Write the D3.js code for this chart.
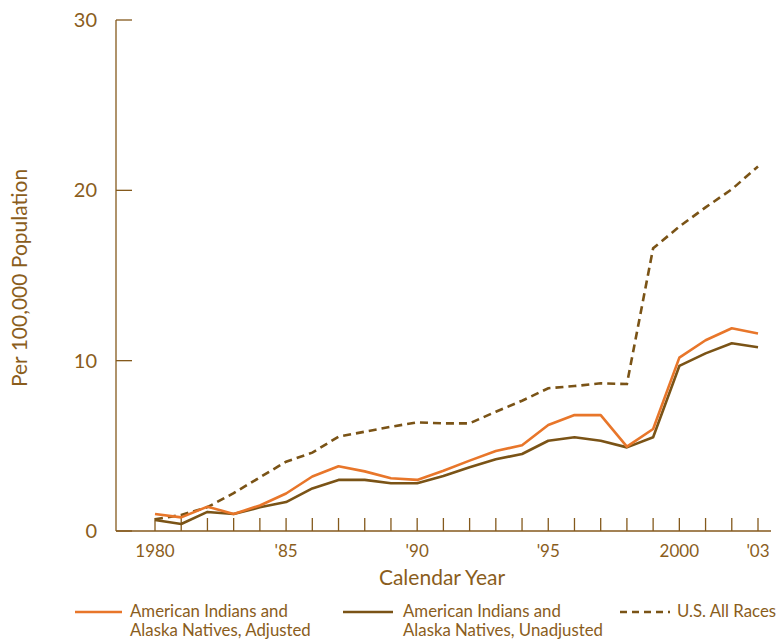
<!DOCTYPE html>
<html>
<head>
<meta charset="utf-8">
<script src="https://cdn.jsdelivr.net/npm/d3@7"></script>
<style>
  body { margin: 0; background: #fff; }
  svg text { font-family: Lato, "Open Sans", sans-serif; fill: #8a5d1c; }
</style>
</head>
<body>
<svg id="chart" width="778" height="643"></svg>
<script>
const years = d3.range(1980, 2004);
const adjusted = [1.0, 0.8, 1.43, 1.0, 1.5, 2.2, 3.2, 3.8, 3.5, 3.1, 3.0, 3.54, 4.13, 4.7, 5.03, 6.22, 6.81, 6.8, 4.95, 5.99, 10.18, 11.2, 11.9, 11.6];
const unadjusted = [0.65, 0.41, 1.12, 1.0, 1.39, 1.7, 2.5, 3.0, 3.0, 2.8, 2.8, 3.23, 3.74, 4.21, 4.52, 5.3, 5.5, 5.3, 4.91, 5.5, 9.69, 10.43, 11.02, 10.79];
const usAll = [0.69, 0.94, 1.4, 2.22, 3.15, 4.07, 4.6, 5.54, 5.83, 6.12, 6.38, 6.32, 6.32, 7.0, 7.65, 8.38, 8.51, 8.67, 8.63, 16.6, 17.87, 19.0, 20.06, 21.4];
const yTicks = [0, 10, 20, 30];
const xLabelYears = [1980, 1985, 1990, 1995, 2000, 2003];
const xLabels = ["1980", "'85", "'90", "'95", "2000", "'03"];
const legendLabels = [
  ["American Indians and", "Alaska Natives, Adjusted"],
  ["American Indians and", "Alaska Natives, Unadjusted"],
  ["U.S. All Races"]
];

const brown = "#84591c";
const orange = "#e8762a";
const darkLine = "#7a5316";

const svg = d3.select("#chart");
const x = d3.scaleLinear().domain([1980, 2003]).range([155, 758]);
const y = d3.scaleLinear().domain([0, 30]).range([531, 20]);

// y axis
svg.append("line").attr("x1", 116).attr("x2", 116).attr("y1", y(30)).attr("y2", y(0))
  .attr("stroke", brown).attr("stroke-width", 1.3);
yTicks.forEach(t => {
  svg.append("line").attr("x1", 116).attr("x2", 132).attr("y1", y(t)).attr("y2", y(t))
    .attr("stroke", brown).attr("stroke-width", 1.3);
  svg.append("text").attr("x", 97).attr("y", y(t) + 7).attr("text-anchor", "end")
    .attr("font-size", 20).text(t);
});

// x axis
svg.append("line").attr("x1", 116).attr("x2", 771).attr("y1", y(0)).attr("y2", y(0))
  .attr("stroke", brown).attr("stroke-width", 1.3);
years.forEach(yr => {
  svg.append("line").attr("x1", x(yr)).attr("x2", x(yr)).attr("y1", y(0)).attr("y2", y(0) - 13)
    .attr("stroke", brown).attr("stroke-width", 1.3);
});
xLabelYears.forEach((yr, i) => {
  svg.append("text").attr("x", x(yr)).attr("y", 557).attr("text-anchor", "middle")
    .attr("font-size", 17).text(xLabels[i]);
});

// axis titles
svg.append("text").attr("x", 442).attr("y", 585).attr("text-anchor", "middle")
  .attr("font-size", 21).text("Calendar Year");
svg.append("text").attr("transform", "translate(27,278) rotate(-90)").attr("text-anchor", "middle")
  .attr("font-size", 21).text("Per 100,000 Population");

// lines
const line = d3.line().x((d, i) => x(years[i])).y(d => y(d));
svg.append("path").datum(usAll).attr("d", line).attr("fill", "none")
  .attr("stroke", darkLine).attr("stroke-width", 2.6).attr("stroke-dasharray", "8,5");
svg.append("path").datum(unadjusted).attr("d", line).attr("fill", "none")
  .attr("stroke", darkLine).attr("stroke-width", 2.6).attr("stroke-linejoin", "round");
svg.append("path").datum(adjusted).attr("d", line).attr("fill", "none")
  .attr("stroke", orange).attr("stroke-width", 2.6).attr("stroke-linejoin", "round");

// legend
const legendItems = [
  {x1: 75, x2: 122, tx: 130, color: orange, dash: null},
  {x1: 343, x2: 393, tx: 403, color: darkLine, dash: null},
  {x1: 620, x2: 670, tx: 677, color: darkLine, dash: "7,5"}
];
legendItems.forEach((it, i) => {
  svg.append("line").attr("x1", it.x1).attr("x2", it.x2).attr("y1", 612).attr("y2", 612)
    .attr("stroke", it.color).attr("stroke-width", 2.6)
    .attr("stroke-dasharray", it.dash);
  legendLabels[i].forEach((t, j) => {
    svg.append("text").attr("x", it.tx).attr("y", 617 + j * 19).attr("font-size", 16.8).text(t);
  });
});
</script>
</body>
</html>
